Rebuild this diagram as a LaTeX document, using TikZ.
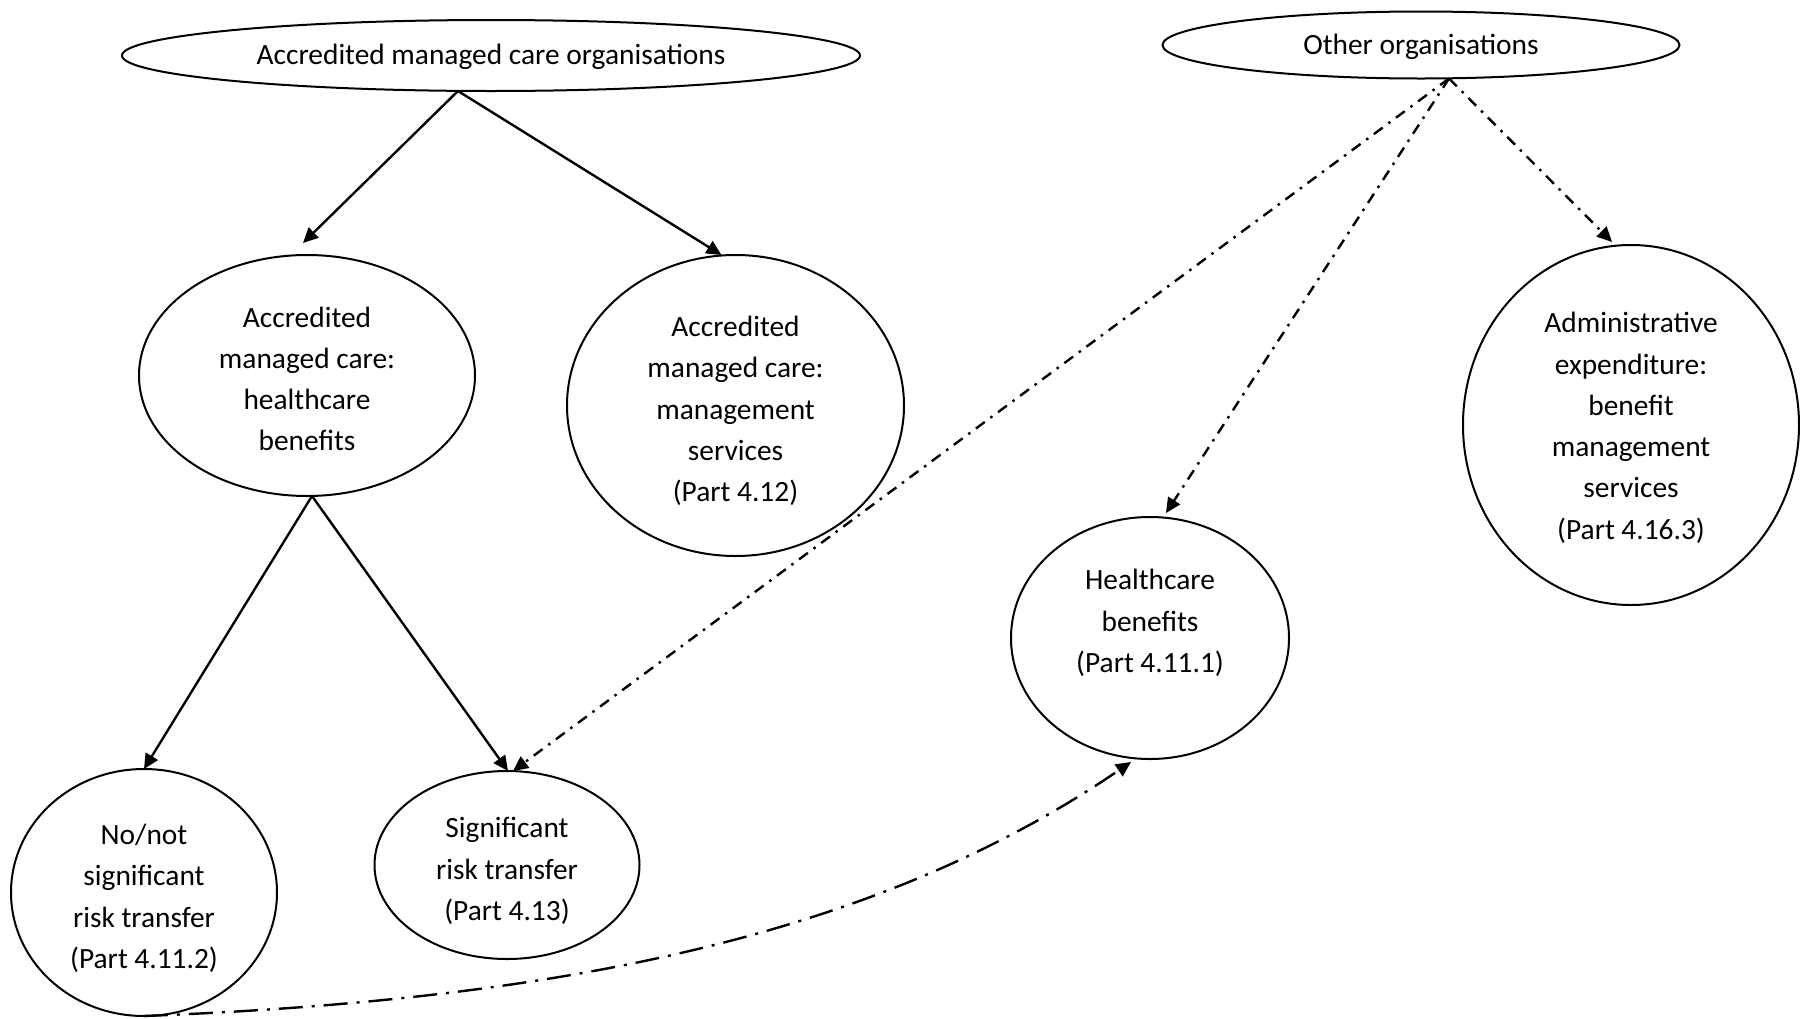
\documentclass[tikz,border=0pt]{standalone}
\usepackage{fontspec}
\setmainfont{Carlito}
\usetikzlibrary{shapes.geometric,arrows.meta,calc}
\newcommand\elltext[2]{\raisebox{#1}[0pt][0pt]{\begin{tabular}{@{}c@{}}#2\end{tabular}}}
\begin{document}
\begin{tikzpicture}[x=1pt,y=-1pt,
  ell/.style={ellipse,draw,line width=2pt,inner sep=0pt,outer sep=0pt,
    font=\fontsize{29.4}{41.3}\selectfont},
  conn/.style={line width=2.4pt,-{Triangle[length=15pt,width=14pt]}},
  dashdot/.style={conn,dash pattern=on 11pt off 7pt on 2.5pt off 7pt},
  longdashdot/.style={conn,dash pattern=on 24pt off 9pt on 3pt off 9pt}]
\useasboundingbox (0,0) rectangle (1800,1018);
\node[ell,minimum width=738pt,minimum height=71pt] (n1) at (491,55.5)
  {\elltext{-7pt}{Accredited managed care organisations}};
\node[ell,minimum width=517pt,minimum height=67pt] (n2) at (1421,45)
  {\elltext{-7pt}{Other organisations}};
\node[ell,minimum width=336pt,minimum height=241pt] (n3) at (307,375.5)
  {\elltext{-11.5pt}{Accredited\\managed care:\\healthcare\\benefits}};
\node[ell,minimum width=337pt,minimum height=301pt] (n4) at (735.5,405.5)
  {\elltext{-11.5pt}{Accredited\\managed care:\\management\\services\\(Part 4.12)}};
\node[ell,minimum width=336pt,minimum height=360pt] (n5) at (1631,425)
  {\elltext{-9pt}{Administrative\\expenditure:\\benefit\\management\\services\\(Part 4.16.3)}};
\node[ell,minimum width=278pt,minimum height=242pt] (n6) at (1150,638)
  {\elltext{9pt}{Healthcare\\benefits\\(Part 4.11.1)}};
\node[ell,minimum width=266pt,minimum height=247pt] (n7) at (144,892.5)
  {\elltext{-12pt}{No/not\\significant\\risk transfer\\(Part 4.11.2)}};
\node[ell,minimum width=265pt,minimum height=188pt] (n8) at (507,865)
  {\elltext{-12pt}{Significant\\risk transfer\\(Part 4.13)}};
% solid connectors
\draw[conn] ($(n1.south)+(-33,0)$) -- ($(n3.north)+(-4,-12)$);
\draw[conn] ($(n1.south)+(-33,0)$) -- ($(n4.north)+(-14,0)$);
\draw[conn] ($(n3.south)+(5,0)$) -- (n7.north);
\draw[conn] ($(n3.south)+(5,0)$) -- ($(n8.north)+(1,0)$);
% dash-dot connectors
\draw[dashdot] ($(n2.south)+(28,0)$) -- ($(n8.north)+(6,0)$);
\draw[dashdot] ($(n2.south)+(28,0)$) -- ($(n6.north)+(16,-4)$);
\draw[dashdot] ($(n2.south)+(28,0)$) -- ($(n5.north)+(-19,-3)$);
% long dash-dot curve
\draw[longdashdot] (n7.south) .. controls (550,1000) and (870,940) .. ($(n6.south)+(-19,3)$);
\end{tikzpicture}
\end{document}
